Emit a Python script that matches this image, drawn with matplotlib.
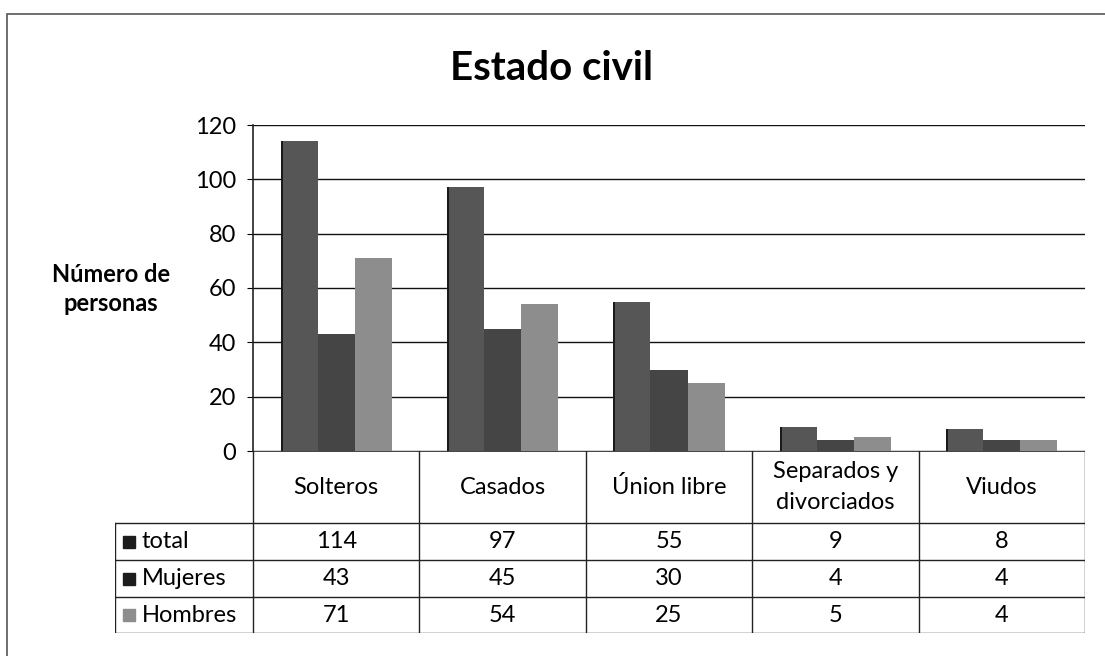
import matplotlib
matplotlib.use("Agg")
import matplotlib.pyplot as plt
import numpy as np
from matplotlib.patches import Rectangle

plt.rcParams['font.family'] = ['Lato', 'DejaVu Sans']

categories = ["Solteros", "Casados", "Únion libre", "Separados y\ndivorciados", "Viudos"]
series_names = ["total", "Mujeres", "Hombres"]
total = [114, 97, 55, 9, 8]
mujeres = [43, 45, 30, 4, 4]
hombres = [71, 54, 25, 5, 4]
colors = ["#565656", "#454545", "#8d8d8d"]

W, H = 1105, 656
fig = plt.figure(figsize=(W / 100, H / 100), dpi=100)

def fx(px):
    return px / W

def fy(py):
    return 1 - py / H

# outer frame (left and top visible)
fig.patches.append(Rectangle((fx(7), fy(700)), 1.2, fy(14) - fy(700), transform=fig.transFigure,
                             fill=False, edgecolor="#555555", lw=1.2))

# main chart
ax = fig.add_axes([fx(253), fy(451), fx(1085) - fx(253), fy(125) - fy(451)])
x = np.arange(len(categories))
bw = 0.223
for i, vals in enumerate([total, mujeres, hombres]):
    ax.bar(x + (i - 1) * bw, vals, bw, color=colors[i], zorder=3)
    if i == 0:
        # darker left edge on the first series, as in the original
        ax.bar(x - bw * 1.5 + 0.006, vals, 0.012, color="#1a1a1a", zorder=4)
ax.set_xlim(-0.5, 4.5)
ax.set_ylim(0, 120)
ax.set_yticks(range(0, 121, 20))
ax.tick_params(axis="y", labelsize=17, length=4, direction="out", pad=8)
ax.set_xticks([])
ax.grid(axis="y", color="#111111", lw=1.0, zorder=0)
for s in ["top", "right", "bottom"]:
    ax.spines[s].set_visible(False)
ax.spines["left"].set_color("#222222")
ax.spines["left"].set_linewidth(1.2)

fig.text(fx(552), fy(68), "Estado civil", ha="center", va="center", fontsize=29, fontweight="bold")
fig.text(fx(111), fy(289), "Número de\npersonas", ha="center", va="center", fontsize=17,
         fontweight="bold", linespacing=1.3)

# data table below the chart
lw_col = 138 / 166.4
ax_t = fig.add_axes([fx(115), fy(633), fx(1085) - fx(115), fy(451) - fy(633)])
ax_t.set_xlim(-0.5 - lw_col, 4.5)
ax_t.set_ylim(182, 0)
ax_t.axis("off")
left = -0.5 - lw_col
rows_y = [0, 72, 109, 146, 182]
lc = "#222222"
ax_t.plot([-0.5, 4.5], [0, 0], color=lc, lw=1.2)
for yy in rows_y[1:]:
    ax_t.plot([left, 4.5], [yy, yy], color=lc, lw=1.0)
ax_t.plot([left, left], [72, 182], color=lc, lw=1.0)
for xx in np.arange(-0.5, 4.6, 1.0):
    ax_t.plot([xx, xx], [0, 182], color=lc, lw=1.0)

for i, c in enumerate(categories):
    ax_t.text(i, 36, c, ha="center", va="center", fontsize=17, linespacing=1.55)

key_colors = ["#1c1c1c", "#1c1c1c", "#8d8d8d"]
for r, (name, vals) in enumerate(zip(series_names, [total, mujeres, hombres])):
    yc = (rows_y[r + 1] + rows_y[r + 2]) / 2
    ax_t.plot(left + 0.085, yc, marker="s", ms=9, color=key_colors[r], mec=key_colors[r])
    ax_t.text(left + 0.16, yc, name, ha="left", va="center", fontsize=17)
    for i, v in enumerate(vals):
        ax_t.text(i, yc, str(v), ha="center", va="center", fontsize=17)

fig.savefig("out.png", dpi=100, facecolor="white")
